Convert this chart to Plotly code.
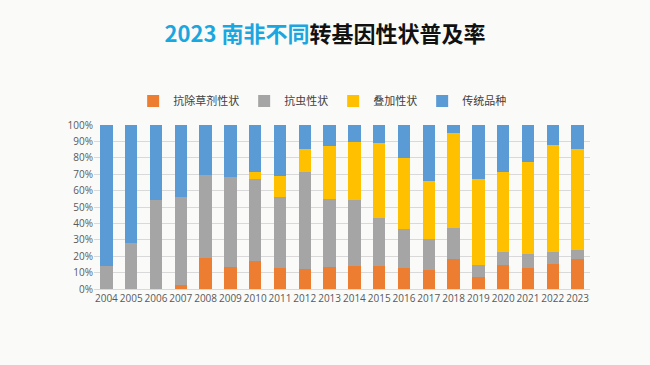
import plotly.graph_objects as go

years = [str(y) for y in range(2004, 2024)]
herbicide = [0, 0, 0, 2.2, 18.9, 13.4, 16.9, 12.8, 12.4, 13.4, 14.1, 13.8, 12.8, 11.4, 18.5, 7.3, 14.7, 12.6, 15.3, 18.3]
insect = [14.1, 28.3, 54.0, 53.6, 50.5, 54.8, 50.3, 43.2, 58.9, 41.4, 40.1, 29.4, 23.5, 19.1, 19.0, 7.6, 7.7, 8.8, 7.1, 5.7]
stacked = [0, 0, 0, 0, 0, 0, 4.3, 13.2, 14.2, 32.4, 35.4, 45.8, 43.3, 35.3, 57.4, 52.3, 48.9, 56.0, 65.4, 61.1]
conventional = [round(100 - a - b - c, 1) for a, b, c in zip(herbicide, insect, stacked)]

names = ["抗除草剂性状", "抗虫性状", "叠加性状", "传统品种"]
colors = ["#ed7d31", "#a5a5a5", "#ffc000", "#5b9bd5"]
series = [herbicide, insect, stacked, conventional]

fig = go.Figure()
for n, c, s in zip(names, colors, series):
    fig.add_trace(go.Bar(x=years, y=[v / 100 for v in s], name=n, marker_color=c,
                         marker_line_width=0, hoverinfo="x+y+name"))

fig.update_layout(
    barmode="stack",
    bargap=0.5,
    width=650, height=365,
    paper_bgcolor="#fafbf9", plot_bgcolor="#fafbf9",
    margin=dict(l=94, r=60, t=125, b=76, autoexpand=False),
    title=dict(
        text="<b><span style='color:#1ba6df'>2023 南非不同</span>转基因性状普及率</b>",
        x=0.5, xanchor="center", y=0.905, yanchor="middle",
        font=dict(family="Noto Sans CJK SC", size=22, color="#111111"),
    ),
    legend=dict(orientation="h", x=0.46, xanchor="center", y=1.146, yanchor="middle",
                font=dict(family="Noto Sans CJK SC", size=11, color="#404040"),
                itemwidth=30, traceorder="normal", bgcolor="rgba(0,0,0,0)"),
    font=dict(family="Open Sans", color="#595959"),
    xaxis=dict(tickfont=dict(size=10, color="#595959"), tickangle=0, showgrid=False, ticks="",
               showline=True, linecolor="#d9d9d9", linewidth=1, automargin=False),
    yaxis=dict(range=[0, 1], tickformat=".0%", dtick=0.1, tickfont=dict(size=10, color="#595959"),
               gridcolor="#d9d9d9", gridwidth=1, zeroline=False, ticks="", automargin=False),
)

fig.write_html("out.html", config={"displayModeBar": False},
               post_script="document.body.style.margin='0';")
